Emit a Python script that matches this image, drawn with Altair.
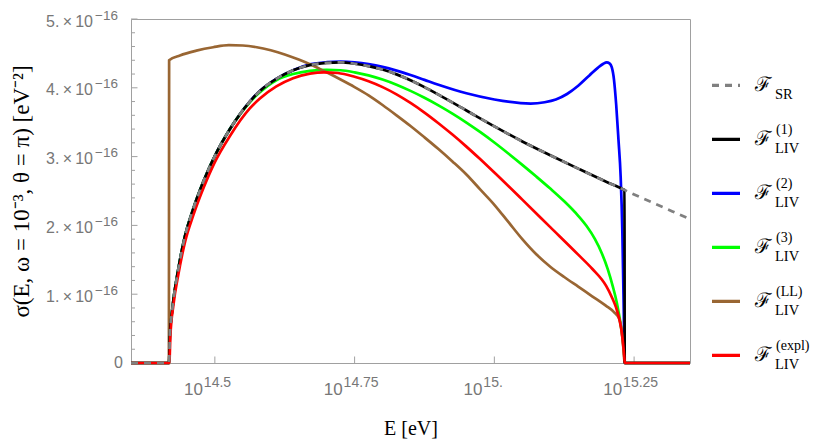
import altair as alt
import pandas as pd

# ---------------- data (sigma in units of 1e-16 eV^-2, x = log10(E/eV)) ----------------
sr_logE = [14.350, 14.418, 14.4196, 14.4225, 14.4256, 14.4345, 14.4464, 14.4613, 14.4791, 14.500,
           14.527, 14.5625, 14.580, 14.610, 14.640, 14.670, 14.700, 14.725, 14.750, 14.775,
           14.800, 14.825, 14.850, 14.875, 14.900, 14.950, 15.000, 15.050, 15.100, 15.150,
           15.200, 15.229, 15.250, 15.300, 15.350]
sr_sig = [0, 0, 0.42, 0.68, 0.90, 1.36, 1.84, 2.24, 2.63, 3.01,
          3.40, 3.80, 3.95, 4.13, 4.255, 4.33, 4.362, 4.37, 4.35, 4.315,
          4.265, 4.195, 4.11, 4.01, 3.90, 3.67, 3.44, 3.22, 3.02, 2.825,
          2.635, 2.53, 2.45, 2.27, 2.09]

liv1_logE = [14.350, 14.418, 14.4196, 14.4225, 14.4256, 14.4345, 14.4464, 14.4613, 14.4791, 14.500,
             14.527, 14.5625, 14.580, 14.610, 14.640, 14.670, 14.700, 14.725, 14.750, 14.775,
             14.800, 14.825, 14.850, 14.875, 14.900, 14.950, 15.000, 15.050, 15.100, 15.150,
             15.200, 15.229, 15.2328, 15.2332, 15.350]
liv1_sig = [0, 0, 0.42, 0.68, 0.90, 1.36, 1.84, 2.24, 2.63, 3.01,
            3.40, 3.80, 3.95, 4.13, 4.255, 4.33, 4.362, 4.37, 4.35, 4.315,
            4.265, 4.195, 4.11, 4.01, 3.90, 3.67, 3.44, 3.22, 3.02, 2.825,
            2.635, 2.53, 2.515, 0, 0]

liv2_logE = [14.350, 14.418, 14.4196, 14.4225, 14.4256, 14.4345, 14.4464, 14.4613, 14.4791, 14.500,
             14.527, 14.5625, 14.580, 14.610, 14.640, 14.670, 14.700, 14.725, 14.750, 14.775,
             14.800, 14.825, 14.850, 14.875, 14.900, 14.950, 15.000, 15.065, 15.090, 15.110,
             15.130, 15.150, 15.170, 15.185, 15.195, 15.201, 15.206, 15.210, 15.214, 15.218,
             15.222, 15.226, 15.229, 15.231, 15.2335, 15.350]
liv2_sig = [0, 0, 0.42, 0.68, 0.90, 1.36, 1.84, 2.24, 2.63, 3.01,
            3.40, 3.80, 3.95, 4.13, 4.255, 4.34, 4.372, 4.38, 4.37, 4.345,
            4.305, 4.25, 4.185, 4.115, 4.045, 3.92, 3.83, 3.77, 3.79, 3.83,
            3.91, 4.03, 4.18, 4.29, 4.35, 4.37, 4.355, 4.30, 4.12, 3.75,
            3.25, 2.70, 1.90, 1.00, 0, 0]

liv3_logE = [14.350, 14.418, 14.4196, 14.4225, 14.4256, 14.4345, 14.4464, 14.4613, 14.4791, 14.500,
             14.527, 14.5625, 14.580, 14.610, 14.640, 14.670, 14.700, 14.725, 14.750, 14.775,
             14.800, 14.825, 14.850, 14.875, 14.900, 14.925, 14.950, 14.975, 15.000, 15.025,
             15.050, 15.075, 15.100, 15.125, 15.150, 15.165, 15.180, 15.192, 15.203, 15.212,
             15.219, 15.224, 15.228, 15.231, 15.2325, 15.2335, 15.350]
liv3_sig = [0, 0, 0.42, 0.68, 0.90, 1.36, 1.84, 2.24, 2.63, 3.01,
            3.40, 3.79, 3.93, 4.11, 4.20, 4.245, 4.26, 4.255, 4.225, 4.18,
            4.12, 4.045, 3.955, 3.855, 3.745, 3.625, 3.495, 3.355, 3.205, 3.045,
            2.88, 2.71, 2.535, 2.35, 2.14, 1.99, 1.80, 1.60, 1.36, 1.11,
            0.88, 0.66, 0.45, 0.25, 0.11, 0, 0]

ll_logE = [14.350, 14.4178, 14.4182, 14.4375, 14.467, 14.497, 14.525, 14.550, 14.575, 14.600,
           14.625, 14.650, 14.675, 14.700, 14.725, 14.750, 14.775, 14.800, 14.825, 14.850,
           14.875, 14.900, 14.925, 14.950, 14.975, 15.000, 15.025, 15.050, 15.075, 15.100,
           15.125, 15.150, 15.175, 15.200, 15.214, 15.223, 15.228, 15.231, 15.233, 15.350]
ll_sig = [0, 0, 4.40, 4.47, 4.54, 4.59, 4.62, 4.615, 4.59, 4.545,
          4.485, 4.41, 4.325, 4.225, 4.12, 4.01, 3.89, 3.75, 3.60, 3.445,
          3.28, 3.11, 2.93, 2.74, 2.52, 2.30, 2.05, 1.80, 1.58, 1.40,
          1.25, 1.11, 0.97, 0.83, 0.74, 0.65, 0.45, 0.20, 0, 0]

expl_logE = [14.350, 14.4185, 14.4205, 14.426, 14.435, 14.447, 14.462, 14.480, 14.500, 14.527,
             14.5625, 14.580, 14.610, 14.640, 14.670, 14.695, 14.720, 14.750, 14.775, 14.800,
             14.825, 14.850, 14.875, 14.900, 14.925, 14.950, 14.975, 15.000, 15.050, 15.100,
             15.150, 15.175, 15.200, 15.210, 15.218, 15.224, 15.228, 15.231, 15.2325, 15.2335,
             15.350]
expl_sig = [0, 0, 0.40, 0.85, 1.30, 1.77, 2.16, 2.55, 2.92, 3.30,
            3.70, 3.84, 4.02, 4.14, 4.205, 4.225, 4.215, 4.16, 4.095, 4.01,
            3.905, 3.78, 3.64, 3.485, 3.32, 3.145, 2.96, 2.77, 2.375, 1.975,
            1.575, 1.37, 1.12, 0.96, 0.80, 0.62, 0.44, 0.22, 0.08, 0, 0]

# axis ticks and labels
y_major = [0, 1, 2, 3, 4, 5]
y_minor = [0.2, 0.4, 0.6, 0.8, 1.2, 1.4, 1.6, 1.8, 2.2, 2.4, 2.6, 2.8,
           3.2, 3.4, 3.6, 3.8, 4.2, 4.4, 4.6, 4.8]
y_lab_vals = [1, 2, 3, 4, 5]
y_lab_mant = ["1.\u2009×\u200910", "2.\u2009×\u200910", "3.\u2009×\u200910",
              "4.\u2009×\u200910", "5.\u2009×\u200910"]
y_lab_exp = ["−16", "−16", "−16", "−16", "−16"]
x_ticks = [14.5, 14.75, 15.0, 15.25]
x_lab_mant = ["10", "10", "10", "10"]
x_lab_exp = ["14.5", "14.75", "15.", "15.25"]

# legend
leg_keys = ["SR", "LIV1", "LIV2", "LIV3", "LL", "expl"]
leg_sub = ["SR", "LIV", "LIV", "LIV", "LIV", "LIV"]
leg_sup = ["", "(1)", "(2)", "(3)", "(LL)", "(expl)"]
leg_colors = ["#808080", "#000000", "#0000ff", "#00ff00", "#996633", "#ff0000"]
leg_dash = [[7, 6], [1, 0], [1, 0], [1, 0], [1, 0], [1, 0]]

# ---------------- chart ----------------
W, H = 559, 344
LAB = "#777777"
FRAME = "#a0a0a0"
LW = 2.7

xs = alt.Scale(domain=[14.35, 15.35], nice=False, zero=False)
ys = alt.Scale(domain=[0, 5], nice=False, zero=False)
xaxis = alt.Axis(title="E [eV]", labels=False, ticks=False, domain=False, grid=False,
                 titleFont="Liberation Serif", titleFontSize=20, titleFontWeight="normal",
                 titleColor="black", titleX=W / 2, titleY=65, titleBaseline="middle",
                 titleAlign="center")
yaxis = alt.Axis(title="σ(E, ω = 10⁻³, θ = π) [eV⁻²]", labels=False, ticks=False,
                 domain=False, grid=False, titleFont="Liberation Serif", titleFontSize=23,
                 titleFontWeight="normal", titleColor="black", titleX=-110, titleY=H / 2,
                 titleAngle=270, titleBaseline="middle", titleAlign="center")


def X(f):
    return alt.X(f, type="quantitative", scale=xs, axis=xaxis)


def Y(f):
    return alt.Y(f, type="quantitative", scale=ys, axis=yaxis)


def curve(logE, sig, color, dash=None):
    df = pd.DataFrame({"logE": logE, "sigma": sig})
    kw = dict(color=color, strokeWidth=LW, interpolate="monotone")
    if dash:
        kw["strokeDash"] = dash
    return alt.Chart(df).mark_line(**kw).encode(x=X("logE"), y=Y("sigma"))


# drawing order as in the reference: gray dashed on top, red above the zero-level overlaps
curves = [
    curve(liv2_logE, liv2_sig, "#0000ff"),
    curve(liv3_logE, liv3_sig, "#00ff00"),
    curve(ll_logE, ll_sig, "#996633"),
    curve(liv1_logE, liv1_sig, "#000000"),
    curve(expl_logE, expl_sig, "#ff0000"),
    curve(sr_logE, sr_sig, "#808080", dash=[7, 6]),
]

ymaj = alt.Chart(pd.DataFrame({"v": y_major})).mark_rule(color=FRAME, strokeWidth=1).encode(
    y=Y("v"), x=alt.value(0), x2=alt.value(6.5))
ymin = alt.Chart(pd.DataFrame({"v": y_minor})).mark_rule(color=FRAME, strokeWidth=1).encode(
    y=Y("v"), x=alt.value(0), x2=alt.value(4))
xmaj = alt.Chart(pd.DataFrame({"v": x_ticks})).mark_rule(color=FRAME, strokeWidth=1).encode(
    x=X("v"), y=alt.value(H), y2=alt.value(H - 6.5))

ylab_df = pd.DataFrame({"v": y_lab_vals, "m": y_lab_mant, "e": y_lab_exp})
ylab_m = alt.Chart(ylab_df).mark_text(align="right", baseline="middle", dy=2.5,
                                      font="Liberation Sans", fontSize=16, color=LAB).encode(
    y=Y("v"), x=alt.value(-38), text="m:N")
ylab_e = alt.Chart(ylab_df).mark_text(align="left", baseline="middle", dy=-3.5,
                                      font="Liberation Sans", fontSize=13.5, color=LAB).encode(
    y=Y("v"), x=alt.value(-36), text="e:N")
ylab_0 = alt.Chart(pd.DataFrame({"v": [0], "m": ["0"]})).mark_text(
    align="right", baseline="middle", font="Liberation Sans", fontSize=16, color=LAB).encode(
    y=Y("v"), x=alt.value(-8), text="m:N")

xlab_df = pd.DataFrame({"v": x_ticks, "m": x_lab_mant, "e": x_lab_exp})
xlab_m = alt.Chart(xlab_df).mark_text(align="right", baseline="alphabetic", dx=-12,
                                      font="Liberation Sans", fontSize=17, color=LAB).encode(
    x=X("v"), y=alt.value(H + 31.5), text="m:N")
xlab_e = alt.Chart(xlab_df).mark_text(align="left", baseline="alphabetic", dx=-11,
                                      font="Liberation Sans", fontSize=14, color=LAB).encode(
    x=X("v"), y=alt.value(H + 24), text="e:N")

main = alt.layer(ymin, ymaj, xmaj, *curves, ylab_m, ylab_e, ylab_0, xlab_m, xlab_e)

# legend (own vertical scale: one row per entry)
leg_df = pd.DataFrame({"row": list(range(len(leg_keys))), "key": leg_keys,
                       "sub": leg_sub, "sup": leg_sup})
LY = alt.Y("row:Q", scale=alt.Scale(domain=[-1.23, 5.14], reverse=True, nice=False, zero=False),
           axis=None)
leg_sym = alt.Chart(leg_df).mark_rule(strokeWidth=3.2).encode(
    y=LY, x=alt.value(581), x2=alt.value(609),
    color=alt.Color("key:N", scale=alt.Scale(domain=leg_keys, range=leg_colors), legend=None),
    strokeDash=alt.StrokeDash("key:N", scale=alt.Scale(domain=leg_keys, range=leg_dash),
                              legend=None))
leg_F = alt.Chart(leg_df).mark_text(align="left", baseline="middle", font="DejaVu Serif",
                                    fontSize=20, color="black").encode(
    y=LY, x=alt.value(624), text=alt.value("ℱ"))
leg_sub_t = alt.Chart(leg_df).mark_text(align="left", baseline="middle", dy=9.5,
                                        font="Liberation Serif", fontSize=14.5,
                                        color="black").encode(
    y=LY, x=alt.value(644), text="sub:N")
leg_sup_t = alt.Chart(leg_df).mark_text(align="left", baseline="middle", dy=-9,
                                        font="Liberation Serif", fontSize=14,
                                        color="black").encode(
    y=LY, x=alt.value(645), text="sup:N")
legend = alt.layer(leg_sym, leg_F, leg_sub_t, leg_sup_t)

chart = alt.layer(main, legend).resolve_scale(
    y="independent", color="independent", strokeDash="independent"
).properties(
    width=W, height=H,
    autosize=alt.AutoSizeParams(type="none"),
    padding={"left": 123, "top": 11, "right": 132, "bottom": 80},
).configure_view(stroke=FRAME, strokeWidth=1)

chart.save("out.html", embed_options={"renderer": "svg", "actions": False})
